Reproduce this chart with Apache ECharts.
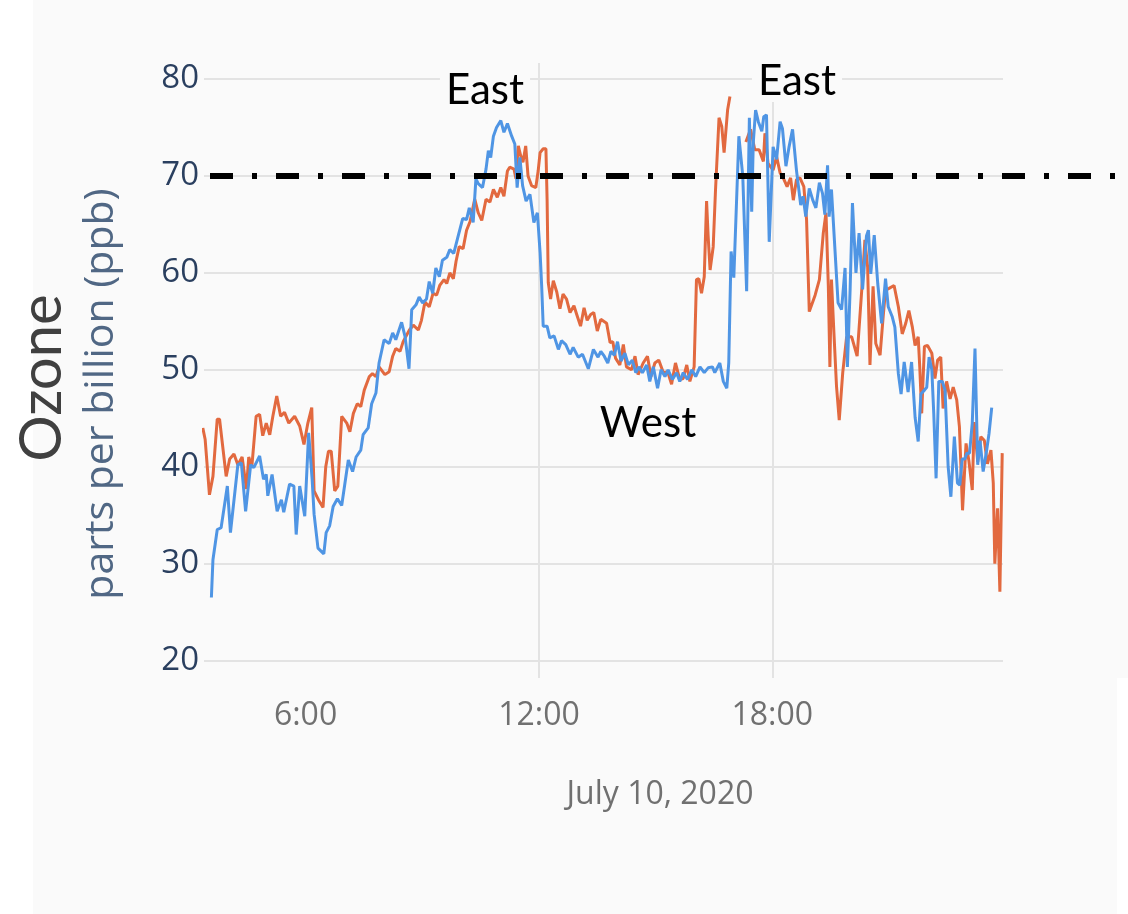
<!DOCTYPE html>
<html>
<head>
<meta charset="utf-8">
<script src="https://cdn.jsdelivr.net/npm/echarts@6/dist/echarts.min.js"></script>
<style>
  html, body { margin: 0; padding: 0; }
  body {
    width: 1128px; height: 914px; overflow: hidden;
    background:
      linear-gradient(#ffffff, #ffffff) right bottom / 11px 236px no-repeat,
      linear-gradient(to right, #ffffff 33px, #fafafa 33px);
  }
  #chart { width: 1128px; height: 914px; }
</style>
</head>
<body>
<div id="chart"></div>
<script>
// Ozone readings, July 10, 2020 (hours of the day, ppb)
const hoursA = [3.58, 3.62, 3.73, 3.83, 3.99, 4.07, 4.26, 4.35, 4.46, 4.59, 4.67, 4.82, 4.92, 4.99, 5.03, 5.14, 5.27, 5.38, 5.44, 5.59, 5.70, 5.76, 5.85, 5.98, 6.08, 6.17, 6.22, 6.32, 6.47, 6.53, 6.62, 6.71, 6.82, 6.93, 7.10, 7.21, 7.30, 7.42, 7.48, 7.61, 7.70, 7.81, 7.89, 8.02, 8.15, 8.24, 8.32, 8.47, 8.56, 8.66, 8.73, 8.84, 8.92, 9.01, 9.11, 9.18, 9.27, 9.35, 9.44, 9.52, 9.63, 9.71, 9.81, 9.93, 10.04, 10.14, 10.21, 10.31, 10.38, 10.44, 10.55, 10.64, 10.70, 10.76, 10.83, 10.91, 11.02, 11.10, 11.19, 11.30, 11.38, 11.44, 11.51, 11.58, 11.67, 11.77, 11.87, 11.96, 12.03, 12.07, 12.11, 12.21, 12.28, 12.39, 12.50, 12.58, 12.69, 12.80, 12.88, 13.01, 13.12, 13.27, 13.40, 13.52, 13.59, 13.68, 13.77, 13.85, 13.94, 14.02, 14.11, 14.21, 14.30, 14.40, 14.49, 14.57, 14.66, 14.77, 14.85, 14.94, 15.05, 15.14, 15.24, 15.32, 15.43, 15.54, 15.62, 15.71, 15.82, 15.93, 16.03, 16.14, 16.25, 16.35, 16.46, 16.52, 16.65, 16.74, 16.83, 16.88, 16.94, 17.01, 17.14, 17.24, 17.34, 17.41, 17.47, 17.51, 17.57, 17.64, 17.73, 17.78, 17.85, 17.92, 18.02, 18.11, 18.20, 18.26, 18.35, 18.43, 18.52, 18.62, 18.73, 18.79, 18.86, 18.95, 19.04, 19.12, 19.21, 19.29, 19.35, 19.42, 19.46, 19.52, 19.61, 19.69, 19.78, 19.87, 19.93, 20.00, 20.06, 20.15, 20.23, 20.32, 20.42, 20.47, 20.53, 20.62, 20.71, 20.81, 20.91, 20.98, 21.08, 21.15, 21.24, 21.31, 21.39, 21.49, 21.58, 21.67, 21.75, 21.82, 21.91, 21.97, 22.03, 22.10, 22.15, 22.21, 22.28, 22.37, 22.44, 22.52, 22.59, 22.68, 22.76, 22.82, 22.88, 22.95, 23.00, 23.07, 23.14, 23.21, 23.28, 23.34, 23.42, 23.51, 23.57, 23.64];
const ppbA = [26.5, 30.4, 33.5, 33.7, 38.0, 33.2, 40.2, 40.4, 35.4, 40.2, 39.9, 41.1, 38.7, 39.2, 37.0, 39.2, 35.4, 36.6, 35.3, 38.2, 38.0, 33.0, 38.0, 34.9, 43.5, 38.7, 35.1, 31.6, 31.0, 33.2, 33.9, 35.9, 36.7, 36.0, 40.7, 39.5, 41.0, 41.7, 43.3, 44.0, 46.5, 47.6, 50.7, 53.1, 52.7, 53.8, 53.1, 54.9, 53.4, 50.1, 56.2, 56.7, 57.5, 56.9, 57.3, 59.1, 57.9, 60.5, 59.6, 61.3, 61.6, 62.4, 62.0, 63.9, 65.6, 65.5, 66.7, 65.2, 69.7, 69.2, 68.8, 70.7, 72.6, 71.9, 74.1, 75.0, 75.7, 74.5, 75.4, 74.1, 73.3, 68.8, 71.9, 69.0, 67.4, 68.1, 65.2, 66.2, 62.1, 58.7, 54.5, 54.5, 53.3, 53.5, 52.1, 53.0, 52.6, 51.6, 52.3, 51.3, 51.6, 50.1, 52.1, 51.3, 51.9, 51.4, 50.7, 51.9, 51.5, 52.9, 50.9, 51.7, 50.5, 51.0, 49.7, 50.3, 49.7, 50.5, 48.8, 50.3, 48.1, 50.0, 49.3, 50.0, 49.0, 49.7, 48.8, 49.7, 49.0, 50.0, 49.3, 50.3, 49.7, 50.2, 50.3, 49.7, 50.7, 48.8, 48.1, 50.7, 62.2, 59.5, 74.1, 70.0, 58.1, 76.0, 66.3, 73.4, 76.8, 75.6, 74.6, 76.1, 76.3, 63.2, 73.0, 71.7, 75.6, 74.9, 71.0, 73.0, 74.8, 70.6, 67.0, 67.9, 65.8, 68.7, 67.5, 66.7, 69.3, 68.2, 66.0, 71.1, 65.8, 68.6, 62.4, 56.9, 56.2, 60.5, 50.3, 58.3, 67.2, 60.0, 64.1, 58.3, 63.8, 64.4, 59.9, 63.9, 58.9, 54.8, 59.4, 56.5, 55.5, 54.4, 49.6, 47.5, 50.8, 47.7, 50.8, 45.1, 42.6, 47.5, 47.9, 48.2, 51.3, 50.0, 45.5, 38.8, 48.8, 48.8, 47.9, 40.0, 36.9, 43.1, 38.3, 38.1, 40.8, 40.8, 41.4, 41.4, 44.5, 52.2, 40.2, 42.7, 39.5, 41.7, 43.4, 46.1];

const hoursB = [3.36, 3.42, 3.53, 3.62, 3.73, 3.79, 3.96, 4.05, 4.16, 4.26, 4.37, 4.48, 4.54, 4.62, 4.73, 4.82, 4.90, 4.99, 5.08, 5.16, 5.26, 5.36, 5.46, 5.57, 5.72, 5.85, 5.96, 6.06, 6.16, 6.22, 6.33, 6.45, 6.52, 6.59, 6.66, 6.75, 6.83, 6.93, 7.06, 7.14, 7.23, 7.33, 7.42, 7.51, 7.64, 7.72, 7.81, 7.89, 8.04, 8.15, 8.24, 8.32, 8.43, 8.51, 8.67, 8.77, 8.90, 8.98, 9.07, 9.18, 9.28, 9.37, 9.45, 9.56, 9.63, 9.71, 9.80, 9.87, 9.95, 10.05, 10.14, 10.23, 10.35, 10.44, 10.53, 10.64, 10.74, 10.83, 10.93, 11.02, 11.10, 11.19, 11.25, 11.36, 11.41, 11.47, 11.53, 11.59, 11.66, 11.72, 11.81, 11.92, 11.98, 12.03, 12.11, 12.18, 12.21, 12.24, 12.30, 12.37, 12.46, 12.54, 12.62, 12.71, 12.80, 12.90, 12.98, 13.07, 13.16, 13.24, 13.33, 13.41, 13.50, 13.59, 13.74, 13.83, 13.90, 13.97, 14.08, 14.17, 14.25, 14.38, 14.47, 14.55, 14.68, 14.79, 14.88, 14.98, 15.08, 15.20, 15.31, 15.41, 15.51, 15.62, 15.71, 15.80, 15.88, 15.99, 16.05, 16.11, 16.18, 16.25, 16.31, 16.35, 16.40, 16.48, 16.54, 16.63, 16.70, 16.76, 16.85, 16.91, 17.10, 17.32, 17.44, 17.55, 17.66, 17.77, 17.81, 17.89, 18.02, 18.11, 18.20, 18.28, 18.38, 18.47, 18.54, 18.62, 18.71, 18.81, 18.88, 18.95, 19.10, 19.21, 19.31, 19.38, 19.44, 19.48, 19.52, 19.58, 19.65, 19.72, 19.81, 19.91, 20.04, 20.18, 20.30, 20.38, 20.45, 20.51, 20.59, 20.66, 20.77, 20.85, 20.91, 21.00, 21.13, 21.24, 21.34, 21.43, 21.51, 21.60, 21.67, 21.75, 21.79, 21.84, 21.91, 21.99, 22.10, 22.18, 22.25, 22.33, 22.39, 22.48, 22.57, 22.65, 22.74, 22.81, 22.89, 22.98, 23.05, 23.14, 23.19, 23.28, 23.36, 23.45, 23.53, 23.62, 23.68, 23.72, 23.79, 23.85, 23.91];
const ppbB = [44.0, 42.8, 37.1, 39.0, 44.9, 44.9, 39.0, 40.8, 41.3, 40.2, 41.0, 37.7, 41.0, 40.0, 45.2, 45.4, 43.2, 44.5, 43.3, 45.2, 47.3, 45.2, 45.6, 44.5, 45.2, 44.2, 42.3, 44.5, 46.1, 37.5, 36.6, 35.8, 40.0, 41.6, 41.6, 37.5, 38.0, 45.2, 44.5, 43.6, 45.5, 46.5, 46.2, 47.9, 49.3, 49.6, 49.3, 50.3, 49.5, 49.8, 51.4, 52.2, 51.9, 52.9, 54.1, 54.6, 54.1, 55.1, 57.0, 56.5, 57.9, 57.7, 58.7, 59.3, 58.9, 60.0, 59.4, 61.2, 62.7, 62.5, 64.4, 65.3, 67.6, 66.2, 65.4, 67.6, 67.3, 68.6, 67.8, 68.8, 67.9, 70.5, 70.9, 70.7, 69.7, 73.1, 72.1, 71.4, 73.1, 70.0, 69.0, 68.8, 70.5, 72.4, 72.8, 72.8, 67.6, 59.0, 57.3, 59.2, 58.0, 56.3, 57.8, 57.3, 55.9, 56.6, 55.6, 54.5, 56.4, 55.1, 55.7, 55.9, 54.0, 55.2, 54.8, 52.8, 52.9, 51.2, 50.5, 52.6, 50.3, 50.0, 51.4, 49.5, 50.7, 51.4, 49.3, 50.7, 51.0, 49.7, 49.8, 48.5, 50.7, 49.0, 49.1, 50.5, 48.8, 50.3, 59.3, 59.4, 57.9, 59.6, 67.4, 63.8, 60.3, 62.7, 68.6, 76.0, 75.1, 72.4, 76.8, 78.2, null, 73.5, 74.8, 72.7, 72.7, 71.5, 74.4, 71.3, 70.6, 72.0, 70.3, 69.8, 68.9, 69.8, 67.5, 69.6, 69.8, 68.9, 65.5, 56.0, 57.7, 59.3, 64.1, 66.2, 58.6, 50.3, 59.3, 54.1, 48.3, 44.8, 49.7, 53.4, 53.4, 51.4, 58.3, 63.4, 60.6, 50.5, 58.6, 52.7, 51.5, 55.5, 58.2, 58.4, 58.7, 56.5, 53.7, 54.8, 56.1, 54.4, 52.5, 53.4, 50.3, 45.5, 52.4, 52.5, 51.7, 49.1, 51.0, 51.3, 46.0, 48.8, 47.0, 48.2, 46.9, 44.1, 35.5, 42.4, 40.7, 37.6, 44.6, 40.5, 43.1, 42.7, 40.3, 41.7, 38.3, 30.0, 35.7, 27.1, 41.4];

// Ozone standard (ppb)
const standardPpb = 70;

// Axis ticks
const hourLabels = [6, 12, 18];
const hourGridlines = [12, 18];
const ppbTicks = [20, 30, 40, 50, 60, 70, 80];

const hourRange = [3.39, 23.93];
const ppbRange = [18.2, 81.65];

const chart = echarts.init(document.getElementById('chart'), null, { renderer: 'canvas' });

const gridColor = '#e3e3e3';
const paper = '#fafafa';

// Annotation text with a paper-coloured box so gridlines stop at the word
function note(text, x, y) {
  return {
    type: 'text', x: x, y: y, z: 100,
    style: {
      text: text, font: '42px Lato', fill: '#000000',
      textAlign: 'center', textVerticalAlign: 'middle',
      backgroundColor: paper, padding: [0, 6]
    }
  };
}

chart.setOption({
  animation: false,
  backgroundColor: 'transparent',
  grid: [
    { left: 204, right: 125, top: 63, bottom: 236 },
    { left: 210, right: 10, top: 63, bottom: 236 }
  ],
  xAxis: [
    {
      type: 'value', gridIndex: 0, min: hourRange[0], max: hourRange[1],
      axisLine: { show: false },
      axisTick: { show: false, customValues: hourGridlines },
      axisLabel: {
        customValues: hourLabels,
        formatter: v => v + ':00',
        color: '#707070', fontSize: 32, fontFamily: 'Open Sans', margin: 22
      },
      splitLine: { show: true, lineStyle: { color: gridColor, width: 2 } }
    },
    { type: 'value', gridIndex: 1, min: 0, max: 1, show: false }
  ],
  yAxis: [
    {
      type: 'value', gridIndex: 0, min: ppbRange[0], max: ppbRange[1],
      axisLine: { show: false },
      axisTick: { show: false, customValues: ppbTicks },
      axisLabel: {
        customValues: ppbTicks,
        color: '#2a3f5f', fontSize: 33, fontFamily: 'Open Sans', margin: 5
      },
      splitLine: { show: true, lineStyle: { color: gridColor, width: 2 } }
    },
    { type: 'value', gridIndex: 1, min: ppbRange[0], max: ppbRange[1], show: false }
  ],
  series: [
    {
      type: 'line', xAxisIndex: 0, yAxisIndex: 0,
      data: hoursB.map((h, i) => [h, ppbB[i]]),
      showSymbol: false, connectNulls: false,
      lineStyle: { color: '#e2693f', width: 3 }
    },
    {
      type: 'line', xAxisIndex: 0, yAxisIndex: 0,
      data: hoursA.map((h, i) => [h, ppbA[i]]),
      showSymbol: false,
      lineStyle: { color: '#4f95e4', width: 3 }
    },
    {
      type: 'line', xAxisIndex: 1, yAxisIndex: 1,
      data: [[0, standardPpb], [1, standardPpb]],
      showSymbol: false, silent: true,
      lineStyle: { color: '#000000', width: 6, type: [23, 19, 5, 19], cap: 'butt' }
    }
  ],
  graphic: [
    { type: 'text', x: 42, y: 378, rotation: Math.PI / 2,
      style: { text: 'Ozone', font: '58px Lato', fill: '#404040', textAlign: 'center', textVerticalAlign: 'middle' } },
    { type: 'text', x: 101, y: 394, rotation: Math.PI / 2,
      style: { text: 'parts per billion (ppb)', font: '41px "Open Sans"', fill: '#506784', textAlign: 'center', textVerticalAlign: 'middle' } },
    { type: 'text', x: 660, y: 795,
      style: { text: 'July 10, 2020', font: '32px "Open Sans"', fill: '#707070', textAlign: 'center', textVerticalAlign: 'middle' } },
    note('East', 485, 90),
    note('East', 797, 81),
    note('West', 648, 423)
  ]
});
</script>
</body>
</html>
